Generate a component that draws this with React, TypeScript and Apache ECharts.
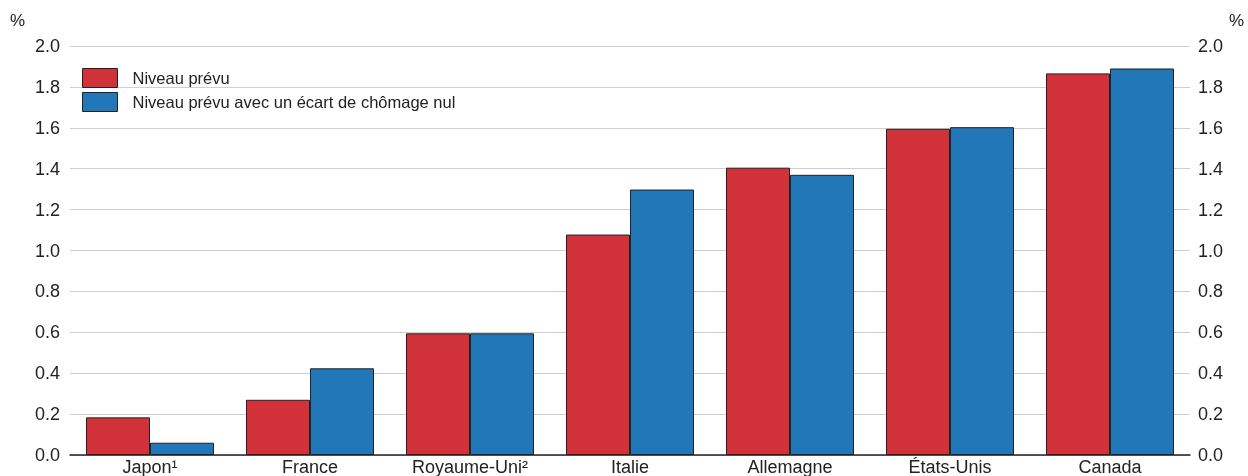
import React, { useEffect, useRef } from "react";
import * as echarts from "echarts";

const categories = ["Japon¹", "France", "Royaume-Uni²", "Italie", "Allemagne", "États-Unis", "Canada"];
const niveauPrevu = [0.184, 0.27, 0.595, 1.078, 1.405, 1.595, 1.866];
const niveauEcartNul = [0.06, 0.424, 0.595, 1.298, 1.37, 1.603, 1.89];
const seriesNames = ["Niveau prévu", "Niveau prévu avec un écart de chômage nul"];

export default function App() {
  const ref = useRef<HTMLDivElement>(null);
  useEffect(() => {
    if (!ref.current) return;
    const chart = echarts.init(ref.current, undefined, { renderer: "svg" });
    const font = "'Liberation Sans', Arial, sans-serif";
    const axisLabel = { fontSize: 18, color: "#222", fontFamily: font, formatter: (v: number) => v.toFixed(1) };
    chart.setOption({
      animation: false,
      textStyle: { fontFamily: font },
      grid: { left: 70, right: 58, top: 46, bottom: 20 },
      legend: {
        orient: "vertical",
        left: 77,
        top: 63,
        icon: "rect",
        itemWidth: 35,
        itemHeight: 19,
        itemGap: 4,
        data: seriesNames,
        itemStyle: { borderColor: "#222", borderWidth: 1 },
        textStyle: { fontSize: 16.5, color: "#222", fontFamily: font, padding: [0, 0, 0, 10] },
      },
      graphic: [
        { type: "text", left: 10, top: 12, style: { text: "%", fontSize: 17, fill: "#222", fontFamily: font } },
        { type: "text", right: 4, top: 12, style: { text: "%", fontSize: 17, fill: "#222", fontFamily: font } },
      ],
      xAxis: {
        type: "category",
        data: categories,
        axisLine: { lineStyle: { color: "#222", width: 1.5 } },
        axisTick: { show: false },
        axisLabel: { fontSize: 18, color: "#222", fontFamily: font, margin: 3, interval: 0 },
      },
      yAxis: [
        {
          type: "value",
          min: 0,
          max: 2,
          interval: 0.2,
          position: "left",
          axisLine: { show: false },
          axisTick: { show: false },
          splitLine: { lineStyle: { color: "#cfcfcf", width: 1 } },
          axisLabel: { ...axisLabel, margin: 10 },
        },
        {
          type: "value",
          min: 0,
          max: 2,
          interval: 0.2,
          position: "right",
          axisLine: { show: false },
          axisTick: { show: false },
          splitLine: { show: false },
          axisLabel: { ...axisLabel, margin: 8 },
        },
      ],
      series: [
        {
          name: seriesNames[0],
          type: "bar",
          data: niveauPrevu,
          barGap: "0%",
          barCategoryGap: "20%",
          itemStyle: { color: "#d13239", borderColor: "#222", borderWidth: 1 },
        },
        {
          name: seriesNames[1],
          type: "bar",
          data: niveauEcartNul,
          barGap: "0%",
          barCategoryGap: "20%",
          itemStyle: { color: "#2277b8", borderColor: "#222", borderWidth: 1 },
        },
      ],
    });
    return () => chart.dispose();
  }, []);
  return <div ref={ref} style={{ position: "fixed", left: 0, top: 0, width: 1248, height: 476 }} />;
}
